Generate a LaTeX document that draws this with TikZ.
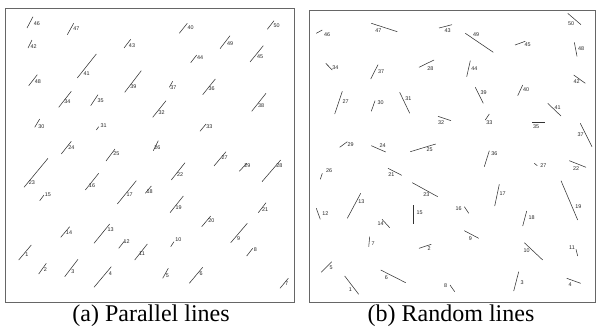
\documentclass[tikz,border=0pt]{standalone}
\usepackage{fontspec}
\setmainfont{Liberation Serif}
\setsansfont{Liberation Sans}
\tikzset{
  panel/.style={draw=black!60, line width=0.9pt},
  segline/.style={draw=black!80, line width=0.55pt},
  seglabel/.style={font=\sffamily\fontsize{5.4}{5.4}\selectfont, inner sep=0pt, text=black!85},
  caption/.style={font=\fontsize{24}{26}\selectfont, inner sep=0pt},
}
% #1 name, #2-#5 segment ends, #6-#7 label centre, #8 label text
\newcommand\seg[8]{%
  \draw[segline] (#2,#3) -- (#4,#5);
  \node[seglabel] (#1) at (#6,#7) {#8};}
\begin{document}
\begin{tikzpicture}[x=1pt,y=-1pt]
\useasboundingbox (0,0) rectangle (596,332);
% frames
\draw[panel] (5,8) rectangle (294,302);
\draw[panel] (309,10) rectangle (595.5,302);

% (a) parallel segments
\seg{a46}{27}{28}{33}{16.7}{37}{23.3}{46}
\seg{a47}{67.3}{34.7}{73.7}{23.3}{76.3}{28.7}{47}
\seg{a42}{28}{48}{32}{40}{33.7}{46.7}{42}
\seg{a43}{124}{48}{130.7}{39.3}{132}{46}{43}
\seg{a41}{77.3}{78}{96.3}{54}{86.7}{73.3}{41}
\seg{a48}{28.7}{85.7}{37.3}{74.7}{38}{82}{48}
\seg{a39}{124.7}{92.3}{141.3}{70.7}{133.3}{86.7}{39}
\seg{a34}{58.7}{107.3}{71.3}{91.3}{67.3}{101.7}{34}
\seg{a35}{90.7}{105.7}{98}{94.7}{100.7}{100.7}{35}
\seg{a30}{34.7}{127.3}{39.7}{119}{41.3}{126.7}{30}
\seg{a31}{96.3}{130}{98.7}{126.7}{103.7}{125.7}{31}
\seg{a24}{61.3}{154}{71.3}{141.3}{71.3}{147.3}{24}
\seg{a40}{179.3}{33.3}{187.3}{23.3}{190.7}{28}{40}
\seg{a50}{267.3}{29.3}{274}{20.7}{276.7}{25.3}{50}
\seg{a49}{220}{48.7}{230}{35.7}{230}{43.3}{49}
\seg{a44}{190.7}{62.7}{196.7}{55}{200}{57.7}{44}
\seg{a45}{250}{62}{263.3}{45.7}{260}{56.7}{45}
\seg{a37}{169.3}{87.3}{172.7}{81.3}{173.3}{88}{37}
\seg{a36}{202.7}{94.7}{215.3}{79}{211.7}{89}{36}
\seg{a32}{152.7}{117.3}{166}{100.7}{161.7}{112.3}{32}
\seg{a38}{251.7}{111.3}{266}{93.3}{261}{105.7}{38}
\seg{a33}{200}{131.3}{206}{124}{209.3}{126.3}{33}
\seg{a26}{153.3}{150.7}{158.3}{140.7}{157.3}{147.3}{26}
\seg{a25}{106}{161}{115}{149}{116.3}{154}{25}
\seg{a23}{24}{187.3}{48}{158.3}{32}{182.7}{23}
\seg{a16}{85.3}{190}{98.7}{173.3}{92}{185.7}{16}
\seg{a15}{39.7}{200.7}{44}{195}{48}{195}{15}
\seg{a17}{117.3}{204}{136.3}{180.7}{129.7}{194.3}{17}
\seg{a18}{145.3}{193.3}{151.3}{186}{149.7}{191.7}{18}
\seg{a14}{60.7}{237.3}{69.7}{226.7}{69}{232.7}{14}
\seg{a13}{94}{243.3}{109.7}{224}{110.7}{230}{13}
\seg{a12}{118.7}{248.3}{124.7}{240.7}{126.7}{241.7}{12}
\seg{a1}{18.7}{260}{31.3}{245}{27}{254.3}{1}
\seg{a11}{134.7}{260}{147.3}{244}{142}{254}{11}
\seg{a2}{38.7}{274}{46.3}{263.3}{45.3}{269.3}{2}
\seg{a3}{64.7}{276.7}{78}{259.3}{73}{271.7}{3}
\seg{a4}{94}{287.3}{111.3}{266.7}{110.3}{274}{4}
\seg{a27}{214}{166}{226}{151.7}{224.7}{157.3}{27}
\seg{a29}{239.3}{171.3}{246.7}{163.3}{247.3}{166}{29}
\seg{a28}{262}{181.7}{280.7}{160}{279.3}{165.7}{28}
\seg{a22}{171.3}{180}{185}{162.7}{180}{175}{22}
\seg{a19}{170}{212.7}{183.3}{196}{178.7}{207.3}{19}
\seg{a21}{258.3}{212.7}{266}{202.7}{265}{210}{21}
\seg{a20}{201.7}{226.7}{210.7}{216}{211.3}{221}{20}
\seg{a9}{230.7}{242.7}{247.3}{223.3}{238.7}{238.3}{9}
\seg{a10}{170.7}{246.7}{174}{241.7}{178.3}{240}{10}
\seg{a8}{246.7}{256}{252.7}{248.3}{255.3}{250}{8}
\seg{a5}{162.7}{278.3}{168.3}{268.3}{167.3}{275.7}{5}
\seg{a6}{189.3}{283.3}{202.7}{267.3}{201}{274}{6}
\seg{a7}{280}{288.3}{288.3}{278.3}{286.7}{284}{7}

% (b) random segments
\seg{b46}{316.3}{33.3}{322.3}{30}{327}{34.7}{46}
\seg{b47}{371.3}{23.3}{397.3}{31.7}{378.3}{30.7}{47}
\seg{b43}{439}{28}{452}{24.7}{447.5}{31}{43}
\seg{b34}{325.7}{63.3}{332.3}{70}{335.3}{67.3}{34}
\seg{b37}{370.7}{79}{378}{64.7}{381}{72}{37}
\seg{b28}{419}{67.3}{434}{60}{430.3}{68.3}{28}
\seg{b27}{334.7}{114}{342.3}{91.3}{345.7}{101.3}{27}
\seg{b30}{371.3}{111.3}{375}{100.7}{380.7}{102.7}{30}
\seg{b31}{399.7}{92.3}{409.7}{113.3}{408.3}{98.7}{31}
\seg{b32}{438}{116.3}{451}{120.7}{441}{122.3}{32}
\seg{b29}{339.7}{147.3}{347.3}{141.7}{350.7}{145}{29}
\seg{b24}{371.3}{145.7}{385.7}{152}{382.7}{145.7}{24}
\seg{b25}{410.3}{151.7}{435.7}{144}{429.7}{149.7}{25}
\seg{b50}{567.7}{13.3}{581}{24.7}{571}{23.3}{50}
\seg{b49}{465.3}{33.3}{493.3}{52.3}{476}{35}{49}
\seg{b45}{515}{45}{525.3}{41.3}{527.7}{45}{45}
\seg{b48}{574.3}{42.3}{577}{56.3}{581}{48.3}{48}
\seg{b44}{466.7}{76.7}{470.3}{60.7}{474.3}{68.3}{44}
\seg{b42}{573.7}{75}{585.3}{83.3}{576.7}{81.3}{42}
\seg{b39}{475.3}{87.3}{483.3}{103.3}{483.7}{93}{39}
\seg{b40}{517.7}{95.7}{522.7}{85}{526}{89.3}{40}
\seg{b41}{547.7}{103.3}{561}{116}{557.7}{107.3}{41}
\seg{b33}{485.3}{120}{489.3}{114}{489.3}{122.7}{33}
\seg{b35}{532}{122.3}{544.7}{122.3}{536}{126.3}{35}
\seg{b37r}{580.3}{123.3}{592}{146.7}{580.7}{135}{37}
\seg{b36}{484.3}{166.7}{489.3}{150.7}{494.3}{153.3}{36}
\seg{b26}{320.3}{179.3}{322.3}{173.3}{329}{171}{26}
\seg{b21}{388}{168.3}{401.7}{175.3}{391.3}{174.3}{21}
\seg{b23}{412.3}{182.7}{437.7}{196.7}{426.3}{195}{23}
\seg{b13}{347.3}{218.3}{360.7}{193.3}{361.3}{202}{13}
\seg{b12}{316.3}{208.3}{320.3}{219.3}{325.3}{213.3}{12}
\seg{b15}{413.3}{205.3}{413.3}{224}{419.7}{212.7}{15}
\seg{b14}{382}{219.3}{389.7}{227.7}{380.7}{223.7}{14}
\seg{b7}{368.7}{246.7}{369.7}{236.7}{373}{244}{7}
\seg{b2}{419}{248.3}{431.3}{244.3}{429}{249}{2}
\seg{b5}{321.3}{272.3}{331.7}{261.7}{331}{268}{5}
\seg{b6}{380.7}{270}{405.7}{282.7}{386.3}{278}{6}
\seg{b1}{344.7}{276}{358.7}{294.3}{350.3}{289.3}{1}
\seg{b8}{450}{285}{454.7}{291.7}{445.7}{286}{8}
\seg{b27r}{534.3}{163.3}{537.3}{165.7}{543.3}{166}{27}
\seg{b22}{569.3}{160.7}{586}{167.3}{576}{168.3}{22}
\seg{b17}{494.7}{206}{499.3}{184.3}{502.7}{193.3}{17}
\seg{b19}{561}{180.7}{577.7}{220}{578.3}{206.7}{19}
\seg{b16}{464.3}{206.7}{468.7}{213.3}{458.7}{208.3}{16}
\seg{b18}{522.7}{226}{526.7}{211}{531.7}{217.3}{18}
\seg{b9}{464.3}{230.7}{478.7}{238.3}{470.3}{238.3}{9}
\seg{b10}{524.3}{242.7}{542.7}{260}{526.7}{250.7}{10}
\seg{b11}{576}{249.3}{577.7}{256}{572}{247.7}{11}
\seg{b3}{513.7}{291}{518.7}{271.7}{522}{282.7}{3}
\seg{b4}{566.7}{278.3}{580.7}{283.3}{570}{284.7}{4}

% captions
\node[caption] (capa) at (151,316) {(a) Parallel lines};
\node[caption] (capb) at (451,316) {(b) Random lines};
\end{tikzpicture}
\end{document}
